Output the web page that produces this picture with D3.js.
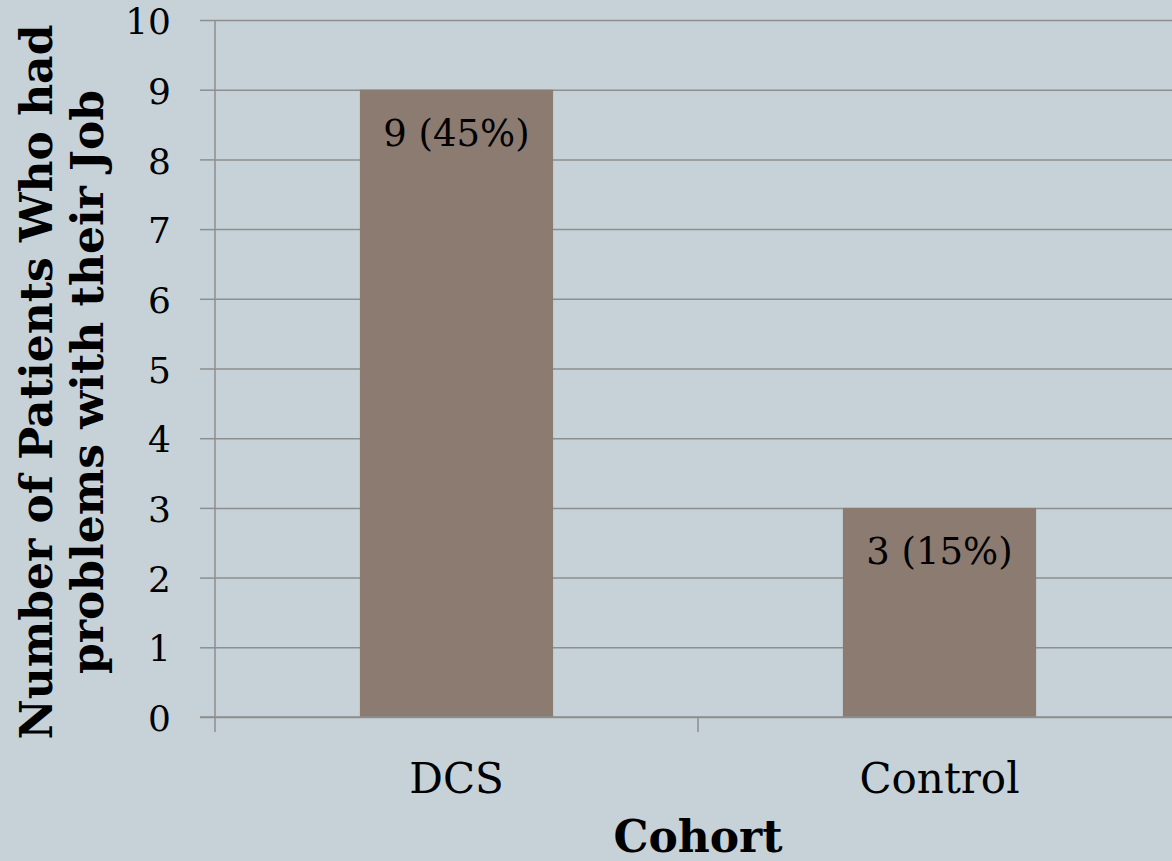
<!DOCTYPE html>
<html>
<head>
<meta charset="utf-8">
<script src="https://cdn.jsdelivr.net/npm/d3@7"></script>
<style>
  html, body { margin: 0; padding: 0; background: #c6d2d8; }
  svg { display: block; }
  text { font-family: Georgia, "DejaVu Serif", serif; fill: #000; }
</style>
</head>
<body>
<svg id="chart" width="1172" height="861"></svg>
<script>
// Patients reporting job problems, by cohort
const categories = ["DCS", "Control"];
const counts = [9, 3];
const percents = [45, 15];
const yTicks = [0, 1, 2, 3, 4, 5, 6, 7, 8, 9, 10];
const yTitleLines = ["Number of Patients Who had", "problems with their Job"];
const xTitle = "Cohort";

const W = 1172, H = 861;
const plotLeft = 215, plotTop = 20, plotBottom = 717, plotRight = 1181;
const gridColor = "#8e8e8e";
const barColor = "#8b7b70";

const svg = d3.select("#chart");

const y = d3.scaleLinear().domain([0, 10]).range([plotBottom, plotTop]);
const x = d3.scaleBand().domain(categories).range([plotLeft, plotRight])
  .paddingInner(0.6).paddingOuter(0.3);

// horizontal gridlines
const grid = svg.append("g").attr("transform", `translate(${plotLeft},0)`)
  .call(d3.axisLeft(y).tickValues(yTicks).tickSize(-(plotRight - plotLeft)).tickFormat(""));
grid.select(".domain").remove();
grid.selectAll("line").attr("stroke", gridColor).attr("stroke-width", 1.5);

// bars
svg.append("g").selectAll("rect")
  .data(categories)
  .join("rect")
  .attr("x", d => x(d))
  .attr("width", x.bandwidth())
  .attr("y", (d, i) => y(counts[i]))
  .attr("height", (d, i) => y(0) - y(counts[i]))
  .attr("fill", barColor);

// value labels inside bars
svg.append("g").selectAll("text")
  .data(categories)
  .join("text")
  .attr("x", d => x(d) + x.bandwidth() / 2)
  .attr("y", (d, i) => y(counts[i]) + 44)
  .attr("text-anchor", "middle")
  .attr("dominant-baseline", "central")
  .style("font-size", "37px")
  .text((d, i) => `${counts[i]} (${percents[i]}%)`);

// y axis with outward ticks
const yAxis = svg.append("g").attr("transform", `translate(${plotLeft},0)`)
  .call(d3.axisLeft(y).tickValues(yTicks).tickSize(15).tickPadding(29).tickFormat(d3.format("d")));
yAxis.select(".domain").remove();
yAxis.selectAll("line").attr("stroke", gridColor).attr("stroke-width", 1.5);
yAxis.selectAll("text")
  .attr("dy", "0.38em")
  .style("font-size", "36px")
  .style("font-family", 'Georgia, "DejaVu Serif", serif');

// vertical axis line, extending below zero to the first category tick
svg.append("line")
  .attr("x1", plotLeft).attr("x2", plotLeft)
  .attr("y1", y(10)).attr("y2", plotBottom + 15)
  .attr("stroke", gridColor).attr("stroke-width", 1.5);

// category boundary ticks
const boundaries = categories.slice(1).map(c => x(c) - x.step() * x.paddingInner() / 2);
svg.append("g").selectAll("line")
  .data(boundaries)
  .join("line")
  .attr("x1", d => d).attr("x2", d => d)
  .attr("y1", plotBottom).attr("y2", plotBottom + 15)
  .attr("stroke", gridColor).attr("stroke-width", 1.5);

// zero line drawn over the bars
svg.append("line")
  .attr("x1", plotLeft - 15).attr("x2", W)
  .attr("y1", y(0)).attr("y2", y(0))
  .attr("stroke", gridColor).attr("stroke-width", 1.5);

// category labels
svg.append("g").selectAll("text")
  .data(categories)
  .join("text")
  .attr("x", d => x(d) + x.bandwidth() / 2)
  .attr("y", 793)
  .attr("text-anchor", "middle")
  .style("font-size", "42px")
  .text(d => d);

// x axis title
svg.append("text")
  .attr("x", boundaries[0])
  .attr("y", 852)
  .attr("text-anchor", "middle")
  .style("font-size", "44px")
  .style("font-weight", "bold")
  .text(xTitle);

// y axis title, two rotated lines
const yTitle = svg.append("text")
  .attr("transform", "translate(0,382) rotate(-90)")
  .attr("text-anchor", "middle")
  .style("font-size", "44px")
  .style("font-weight", "bold");
yTitle.selectAll("tspan")
  .data(yTitleLines)
  .join("tspan")
  .attr("x", 0)
  .attr("y", (d, i) => 52 + i * 51)
  .text(d => d);
</script>
</body>
</html>
